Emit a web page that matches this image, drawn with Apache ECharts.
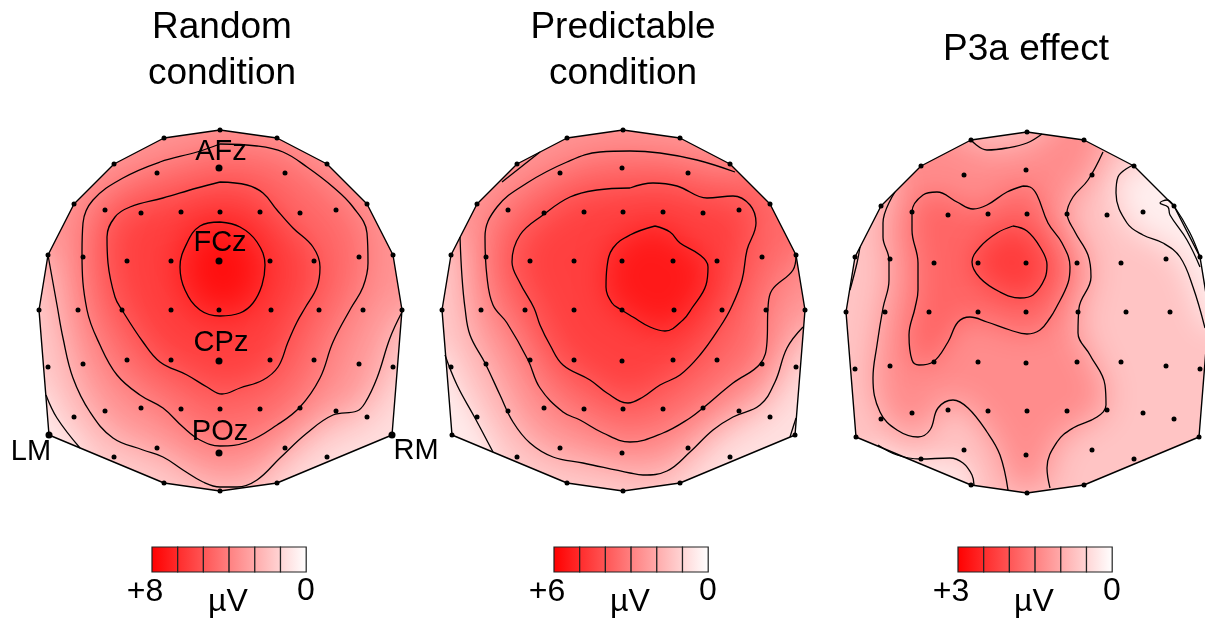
<!DOCTYPE html>
<html><head><meta charset="utf-8">
<style>html,body{margin:0;background:#fff}#c{width:1205px;height:621px}</style>
<script src="https://cdn.jsdelivr.net/npm/echarts@6/dist/echarts.min.js"></script>
</head><body><div id="c"></div>
<script>
const panelTitles = ['Random\ncondition', 'Predictable\ncondition', 'P3a effect'];
const panelCentreX = [220, 623, 1027];
const panelShift = [[0,0],[403,0],[807,2]];
const scaleMaxLabels = ['+8','+6','+3'];
const scaleMinLabel = '0';
const scaleUnit = 'µV';
const scaleStart = [152,554,958];
const scaleSteps = [0,1,2,3,4,5];

const outline = [[220,130],[277,138],[327,164],[367,204],[393,255],[402,310],[392,435],[277,483],[220,491],[164,483],[49,435],[39,310],[48,255],[74,204],[114,164],[164,138]];
const innerElectrodes = [[157,173],[219,168],[285,173],[105,210],[141,213],[181,212],[220,212],[260,212],[300,213],[336,210],[83,257],[127,261],[171,261],[219,261],[270,261],[314,261],[359,257],[78,310],[122,310],[171,310],[219,310],[271,310],[319,310],[363,310],[48,367],[83,364],[127,360],[171,360],[219,361],[270,360],[314,360],[359,364],[393,367],[74,417],[105,411],[141,408],[181,409],[220,409],[260,409],[300,408],[336,411],[367,417],[114,457],[157,448],[219,453],[285,448],[327,457]];
const namedElectrodes = [[219,168],[219,261],[219,361],[219,453],[49,435],[392,435]];
const electrodeNames = [['AFz',221,152],['FCz',220,243],['CPz',221,343],['POz',220,432],['LM',31,452],['RM',416,451]];

// Random condition contours
const a1 = [[220,222],[240,227],[257,242],[265,265],[262,285],[253,303],[240,313],[220,316],[200,310],[185,290],[180,267],[187,243],[200,226],[220,222]];
const a2 = [[220,182],[197,188],[163,198],[130,207],[115,217],[107,237],[108,263],[115,297],[122,310],[143,342],[160,362],[187,375],[207,387],[222,394],[240,388],[263,380],[278,367],[288,342],[297,322],[305,308],[317,287],[320,267],[313,247],[293,228],[277,210],[263,193],[247,185],[220,182]];
const a3 = [[220,144],[197,152],[160,162],[123,178],[93,200],[83,223],[82,253],[87,310],[100,345],[117,375],[140,395],[163,408],[183,427],[200,440],[220,446],[247,442],[277,425],[300,407],[320,378],[333,342],[351,308],[363,287],[368,263],[367,233],[353,207],[333,187],[307,167],[283,152],[257,146],[220,144]];
const a4 = [[48,255],[57,305],[63,338],[73,378],[90,412],[113,438],[143,450],[163,457],[183,470],[203,482],[220,487],[237,487],[257,480],[280,458],[307,433],[333,415],[357,411],[365,403],[377,378],[390,338],[402,312]];
const a5 = [[46,395],[57,418],[80,448]];

// Predictable condition contours
const b1 = [[655,226],[670,232],[680,243],[700,255],[708,267],[706,285],[692,308],[683,320],[665,331],[650,327],[633,317],[620,309],[612,303],[606,287],[607,267],[613,248],[630,235],[655,226]];
const b2 = [[630,188],[653,183],[677,186],[707,198],[733,196],[750,205],[756,223],[747,250],[742,280],[731,308],[720,327],[700,355],[680,375],[660,385],[643,397],[628,403],[607,393],[590,380],[563,365],[550,345],[540,325],[534,308],[520,283],[512,262],[520,235],[543,215],[570,197],[597,190],[630,188]];
const b3 = [[735,172],[697,160],[660,153],[630,151],[600,152],[567,162],[527,183],[497,207],[485,237],[487,277],[493,305],[507,323],[528,360],[540,388],[563,412],[580,420],[603,433],[630,442],[663,433],[690,418],[703,408],[733,383],[760,364],[767,342],[768,308],[772,290],[793,270],[796,255]];
const b4 = [[460,237],[462,277],[465,308],[470,335],[485,363],[500,395],[513,422],[530,443],[553,457],[583,463],[630,473],[643,475],[667,471],[690,452],[713,430],[733,417],[760,405],[775,382],[787,348],[803,327]];
const b5 = [[445,355],[457,385],[475,418],[493,452]];
const b6 = [[790,437],[796,418]];
const b7 = [[502,182],[540,152]];

// P3a effect contours
const c1 = [[1013,226],[1027,231],[1040,247],[1047,265],[1045,278],[1033,295],[1020,298],[1000,292],[980,278],[972,262],[980,247],[997,233],[1013,226]];
const c2 = [[1023,186],[1007,192],[987,205],[973,209],[957,202],[937,192],[923,195],[912,212],[912,230],[918,263],[918,290],[915,308],[909,335],[912,360],[919,365],[933,362],[948,342],[958,322],[970,317],[987,322],[1010,330],[1027,334],[1040,330],[1050,318],[1056,308],[1068,283],[1070,267],[1062,243],[1048,223],[1037,195],[1030,187],[1023,186]];
const c3a = [[895,192],[883,223],[883,237],[889,260],[889,280],[883,308],[877,345],[873,378],[880,412],[897,430],[918,437],[930,430],[938,408],[953,400],[968,408],[987,432],[1000,455],[1008,490]];
const c3b = [[1050,488],[1047,468],[1057,442],[1073,428],[1097,417],[1106,405],[1105,385],[1090,355],[1078,333],[1079,308],[1091,277],[1088,255],[1075,232],[1067,213],[1073,197],[1088,180],[1103,152]];
const c4 = [[971,140],[987,150],[1007,148],[1027,143],[1042,134]];
const c5 = [[1133,165],[1118,177],[1116,193],[1127,223],[1143,235],[1163,243],[1180,257],[1193,287],[1205,328]];
const c6 = [[1200,267],[1187,240],[1170,215],[1168,207],[1160,203],[1167,200],[1174,206],[1190,233],[1200,257]];
const c7 = [[860,247],[857,263],[850,290]];
const c8 = [[878,445],[897,455],[920,459],[950,458],[963,463],[972,475],[974,485]];

const shift = (pts, p) => pts.map(q => [q[0] + panelShift[p][0], q[1] + panelShift[p][1]]);
const outlines = [0,1,2].map(p => shift(outline, p));
// outline vertices pushed well outside the head, used only to close contour regions
const away = (p, idx) => idx.map(i => {
  const q = outlines[p][i], cx = panelCentreX[p], cy = 310;
  return [cx + (q[0]-cx)*1.5, cy + (q[1]-cy)*1.5];
});

const series = [];
function base(p, colour) {
  series.push({type:'custom', coordinateSystem:'cartesian2d', silent:true, animation:false, data:outlines[p],
    renderItem(params, api){ if(params.dataIndex) return null;
      return {type:'polygon', shape:{points:outlines[p].map(q=>api.coord(q))}, style:{fill:colour}}; }});
}
function soft(p, pts, rgb, alpha, blur) {
  series.push({type:'custom', coordinateSystem:'cartesian2d', silent:true, animation:false, data:pts,
    renderItem(params, api){ if(params.dataIndex) return null;
      return {type:'polygon',
        shape:{points:pts.map(q=>{const c=api.coord(q);return [c[0]-3000,c[1]];})},
        style:{fill:'#000', shadowColor:`rgba(${rgb},${alpha})`, shadowBlur:blur, shadowOffsetX:3000, shadowOffsetY:0},
        clipPath:{type:'polygon', shape:{points:outlines[p].map(q=>api.coord(q))}}};
    }});
}
const RED='255,0,0', WHITE='255,255,255';
const step = (from,to)=> +(1-to/from).toFixed(3);

// Panel A
base(0,'rgb(255,204,204)');
soft(0,[...a5,...away(0,[9,10,11])],WHITE,.55,24);
soft(0,[[402,380],[365,425],[320,445],[270,486],...away(0,[7,6,5])],WHITE,.35,34);
soft(0,[...a4,...away(0,[5,4,3,2,1,0,15,14,13,12])],RED,step(.8,.583),36);
soft(0,a3,RED,step(.583,.417),36);
soft(0,a2,RED,step(.417,.25),36);
soft(0,a1,RED,step(.25,.06),36);
// Panel B
base(1,'rgb(255,204,204)');
soft(1,[...b5,...away(1,[9,10,11])],WHITE,.6,24);
soft(1,[[805,360],[770,410],[720,440],[680,486],...away(1,[7,6,5])],WHITE,.4,34);
soft(1,[...b4,...away(1,[5,4,3,2,1,0,15,14,13,12])],RED,step(.8,.583),36);
soft(1,[...b3,...away(1,[4,3,2])],RED,step(.583,.417),36);
soft(1,b2,RED,step(.417,.25),36);
soft(1,b1,RED,step(.25,.1),30);
// Panel C
base(2,'rgb(255,196,196)');
soft(2,[...c5,...away(2,[5,4,3])],WHITE,.72,30);
soft(2,[...c8,...away(2,[9,10])],WHITE,.5,20);
soft(2,[...c3a,...c3b,...away(2,[1]),...c4.slice().reverse(),...away(2,[14])],RED,step(.77,.55),32);
soft(2,c2,RED,step(.55,.4),28);
soft(2,c1,RED,step(.4,.24),28);

// Contour lines
[a1,a2,a3,a4,a5,b1,b2,b3,b4,b5,b6,b7,c1,c2,c3a,c3b,c4,c5,c6,c7,c8].forEach(line=>{
  series.push({type:'line', data:line, smooth:.4, showSymbol:false, silent:true, animation:false, clip:false,
    lineStyle:{color:'#000', width:1.3}});
});
// Head outlines
outlines.forEach(o=>series.push({type:'line', data:[...o,o[0]], showSymbol:false, silent:true, animation:false, clip:false,
  lineStyle:{color:'#000', width:1.4}}));
// Electrodes
series.push({type:'scatter', symbolSize:5, silent:true, animation:false, clip:false, itemStyle:{color:'#000',opacity:1},
  data:[0,1,2].flatMap(p=>[...shift(outline,p),...shift(innerElectrodes,p)])});
series.push({type:'scatter', symbolSize:7, silent:true, animation:false, itemStyle:{color:'#000',opacity:1}, data:namedElectrodes});
// Electrode names
const FONT='"Liberation Sans",Arial,sans-serif';
series.push({type:'scatter', symbolSize:0, silent:true, animation:false, itemStyle:{opacity:1}, data:electrodeNames.map(e=>({value:[e[1],e[2]],name:e[0]})),
  label:{show:true, position:'inside', formatter:'{b}', fontFamily:FONT, fontSize:29, color:'#000', opacity:1}});
// Colour scales
scaleStart.forEach((x0,p)=>{
  const w=25.7, y0=547, y1=572;
  series.push({type:'custom', coordinateSystem:'cartesian2d', silent:true, animation:false, data:scaleSteps.map(s=>[s]),
    renderItem(params, api){
      const s=api.value(0), a=api.coord([x0+s*w,y0]), b=api.coord([x0+(s+1)*w,y1]);
      const mix=t=>{const v=Math.round(255*t);return `rgb(255,${v},${v})`;};
      return {type:'rect', shape:{x:a[0],y:a[1],width:b[0]-a[0],height:b[1]-a[1]},
        style:{fill:new echarts.graphic.LinearGradient(0,0,1,0,[{offset:0,color:mix(s/6)},{offset:1,color:mix((s+1)/6)}]),
               stroke:'#222', lineWidth:1.2}};
    }});
  series.push({type:'scatter', symbolSize:0, silent:true, animation:false, itemStyle:{opacity:1},
    data:[{value:[x0-7,592],name:scaleMaxLabels[p]},{value:[x0+76,602],name:scaleUnit},{value:[x0+154,591],name:scaleMinLabel}],
    label:{show:true, position:'inside', formatter:'{b}', fontFamily:FONT, fontSize:32, color:'#000', opacity:1}});
});

const chart=echarts.init(document.getElementById('c'),null,{renderer:'canvas'});
chart.setOption({
  animation:false,
  backgroundColor:'#fff',
  title:panelTitles.map((t,i)=>({text:t,left:[217,618,1021][i],top:i===2?22:0,textAlign:'center',
    textStyle:{fontFamily:FONT,fontSize:37,fontWeight:'normal',color:'#000',lineHeight:46}})),
  grid:{left:0,right:0,top:0,bottom:0},
  xAxis:{type:'value',min:0,max:1205,show:false},
  yAxis:{type:'value',min:0,max:621,inverse:true,show:false},
  series
});
</script></body></html>
